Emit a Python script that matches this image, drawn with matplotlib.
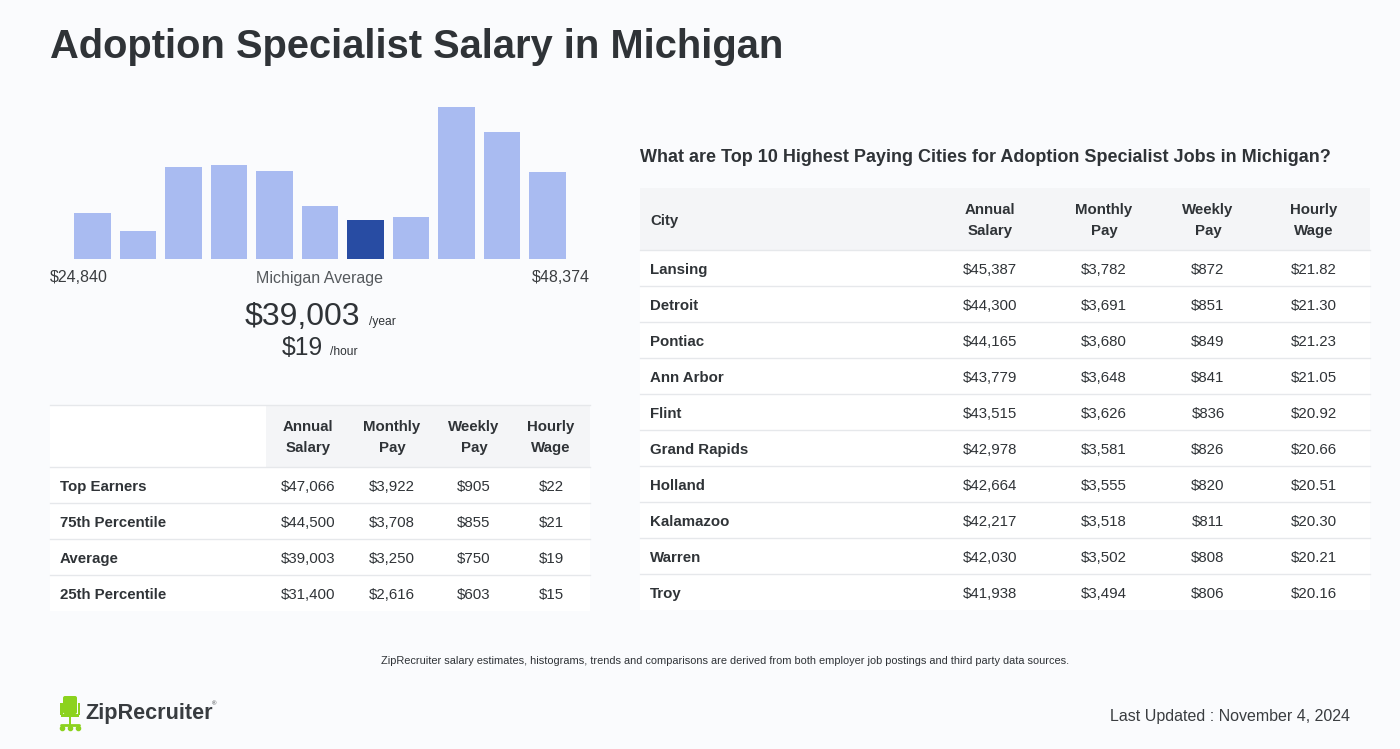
import matplotlib
matplotlib.use("Agg")
import matplotlib.pyplot as plt
from matplotlib.patches import Rectangle, FancyBboxPatch

plt.rcParams['font.family'] = ['Liberation Sans', 'DejaVu Sans']

# ---------------- data ----------------
title = "Adoption Specialist Salary in Michigan"
hist_heights = [46, 28, 92, 94, 88, 53, 39, 42, 152, 127, 87]
hist_highlight = 6
hist_min_label = "$24,840"
hist_max_label = "$48,374"
avg_year = "$39,003"
avg_hour = "$19"

pct_rows = ["Top Earners", "75th Percentile", "Average", "25th Percentile"]
pct_annual = ["$47,066", "$44,500", "$39,003", "$31,400"]
pct_monthly = ["$3,922", "$3,708", "$3,250", "$2,616"]
pct_weekly = ["$905", "$855", "$750", "$603"]
pct_hourly = ["$22", "$21", "$19", "$15"]

col_headers = [("Annual", "Salary"), ("Monthly", "Pay"), ("Weekly", "Pay"), ("Hourly", "Wage")]

cities = ["Lansing", "Detroit", "Pontiac", "Ann Arbor", "Flint", "Grand Rapids",
          "Holland", "Kalamazoo", "Warren", "Troy"]
city_annual = ["$45,387", "$44,300", "$44,165", "$43,779", "$43,515", "$42,978",
               "$42,664", "$42,217", "$42,030", "$41,938"]
city_monthly = ["$3,782", "$3,691", "$3,680", "$3,648", "$3,626", "$3,581",
                "$3,555", "$3,518", "$3,502", "$3,494"]
city_weekly = ["$872", "$851", "$849", "$841", "$836", "$826",
               "$820", "$811", "$808", "$806"]
city_hourly = ["$21.82", "$21.30", "$21.23", "$21.05", "$20.92", "$20.66",
               "$20.51", "$20.30", "$20.21", "$20.16"]

# ---------------- style ----------------
W, H = 1400, 749
BG = "#fafbfd"
DARK = "#2f3337"
LIGHT_BAR = "#a9bbf1"
DARK_BAR = "#284ca3"
HEAD_BG = "#f4f5f7"
LINE = "#e6e8eb"

def px(v):
    return v * 72.0 / 100.0  # pixel size -> points at dpi 100

fig = plt.figure(figsize=(W / 100, H / 100), dpi=100, facecolor=BG)
ov = fig.add_axes([0, 0, 1, 1])
ov.set_xlim(0, W)
ov.set_ylim(H, 0)
ov.axis("off")
ov.set_zorder(0)

# title
ov.text(50, 58, title, fontsize=px(39.9), fontweight="bold", color=DARK,
        ha="left", va="baseline")

# ---------------- histogram ----------------
hx0, hx1, hy_base, hy_top = 69.75, 570.25, 259, 107
hax = fig.add_axes([hx0 / W, (H - hy_base) / H, (hx1 - hx0) / W, (hy_base - hy_top) / H])
hax.set_xlim(-0.5, len(hist_heights) - 0.5)
hax.set_ylim(0, max(hist_heights))
colors = [DARK_BAR if i == hist_highlight else LIGHT_BAR for i in range(len(hist_heights))]
hax.bar(range(len(hist_heights)), hist_heights, width=0.81, color=colors)
hax.axis("off")
hax.patch.set_alpha(0)

ov.text(50, 278, hist_min_label, fontsize=px(16), color="#3a3d40", ha="left", va="center")
ov.text(590, 278, hist_max_label, fontsize=px(16), color="#3a3d40", ha="right", va="center")
ov.text(320, 278, "Michigan Average", fontsize=px(16), color="#55595d", ha="center", va="center")
ov.text(360, 325, avg_year, fontsize=px(32), color=DARK, ha="right", va="baseline")
ov.text(369, 325, "/year", fontsize=px(12), color=DARK, ha="left", va="baseline")
ov.text(323, 355, avg_hour, fontsize=px(24.8), color=DARK, ha="right", va="baseline")
ov.text(330, 355, "/hour", fontsize=px(12), color=DARK, ha="left", va="baseline")

def header(cx, ytop, lines):
    ov.text(cx, ytop, lines[0], fontsize=px(15), fontweight="bold", color=DARK,
            ha="center", va="center", zorder=3)
    ov.text(cx, ytop + 21, lines[1], fontsize=px(15), fontweight="bold", color=DARK,
            ha="center", va="center", zorder=3)

# ---------------- left table ----------------
lt_x0, lt_x1 = 50, 590
lt_top, lt_head_bot, row_h = 405, 467, 36
ov.add_patch(Rectangle((lt_x0, lt_top), lt_x1 - lt_x0, lt_head_bot - lt_top + row_h * len(pct_rows),
                       facecolor="white", edgecolor="none", zorder=1))
ov.add_patch(Rectangle((266, lt_top), lt_x1 - 266, lt_head_bot - lt_top,
                       facecolor=HEAD_BG, edgecolor="none", zorder=1))
ov.plot([lt_x0, lt_x1], [lt_top, lt_top], color=LINE, lw=1, zorder=2)
lt_cols = [308, 392, 474, 551]
for cx, hdr in zip(lt_cols, col_headers):
    header(cx, 427, hdr)
for i, name in enumerate(pct_rows):
    y0 = lt_head_bot + i * row_h
    ov.plot([lt_x0, lt_x1], [y0, y0], color=LINE, lw=1, zorder=2)
    yc = y0 + row_h / 2 + 2
    ov.text(60, yc, name, fontsize=px(15), fontweight="bold", color=DARK,
            ha="left", va="center", zorder=3)
    for cx, vals in zip(lt_cols, [pct_annual, pct_monthly, pct_weekly, pct_hourly]):
        ov.text(cx, yc, vals[i], fontsize=px(15), color=DARK, ha="center", va="center", zorder=3)

# ---------------- right table ----------------
ov.text(640, 158, "What are Top 10 Highest Paying Cities for Adoption Specialist Jobs in Michigan?",
        fontsize=px(18.05), fontweight="bold", color=DARK, ha="left", va="center")
rt_x0, rt_x1 = 640, 1370
rt_top, rt_head_bot = 188, 250
ov.add_patch(Rectangle((rt_x0, rt_top), rt_x1 - rt_x0, rt_head_bot - rt_top + row_h * len(cities),
                       facecolor="white", edgecolor="none", zorder=1))
ov.add_patch(Rectangle((rt_x0, rt_top), rt_x1 - rt_x0, rt_head_bot - rt_top,
                       facecolor=HEAD_BG, edgecolor="none", zorder=1))
rt_cols = [990, 1104, 1208, 1314]
ov.text(650, 221, "City", fontsize=px(15), fontweight="bold", color=DARK,
        ha="left", va="center", zorder=3)
for cx, hdr in zip(rt_cols, col_headers):
    header(cx, 210, hdr)
for i, name in enumerate(cities):
    y0 = rt_head_bot + i * row_h
    ov.plot([rt_x0, rt_x1], [y0, y0], color=LINE, lw=1, zorder=2)
    yc = y0 + row_h / 2 + 2
    ov.text(650, yc, name, fontsize=px(15), fontweight="bold", color=DARK,
            ha="left", va="center", zorder=3)
    for cx, vals in zip(rt_cols, [city_annual, city_monthly, city_weekly, city_hourly]):
        ov.text(cx, yc, vals[i], fontsize=px(15), color=DARK, ha="center", va="center", zorder=3)

# ---------------- footer ----------------
ov.text(725, 661, "ZipRecruiter salary estimates, histograms, trends and comparisons are derived from both employer job postings and third party data sources.",
        fontsize=px(11), color=DARK, ha="center", va="center")
ov.text(1350, 716, "Last Updated : November 4, 2024", fontsize=px(16), color="#3a3d40",
        ha="right", va="center")

# logo: chair icon
G = "#8cd21e"
ov.add_patch(FancyBboxPatch((63, 696), 14, 18, boxstyle="round,pad=0,rounding_size=2",
                            facecolor=G, edgecolor="none", zorder=3))
ov.add_patch(Rectangle((60, 703), 2.5, 12, facecolor=G, edgecolor="none", zorder=3))
ov.add_patch(Rectangle((77.5, 703), 2.5, 12, facecolor=G, edgecolor="none", zorder=3))
ov.add_patch(Rectangle((61, 714), 18, 3, facecolor=G, edgecolor="none", zorder=3))
ov.add_patch(Rectangle((68.8, 717), 2.4, 8, facecolor=G, edgecolor="none", zorder=3))
ov.plot([61, 79], [725, 725], color=G, lw=2, solid_capstyle="round", zorder=3)
ov.plot([62, 78], [727.5, 727.5], color=G, lw=0, marker="o", ms=3, zorder=3)
ov.plot([70], [728], color=G, marker="o", ms=3, zorder=3)
ov.text(85, 713, "ZipRecruiter", fontsize=px(21.6), fontweight="bold", color="#383c40",
        ha="left", va="center")
ov.text(212, 704, "®", fontsize=px(6), color="#383c40", ha="left", va="center")

fig.savefig("out.png", dpi=100, facecolor=BG)
